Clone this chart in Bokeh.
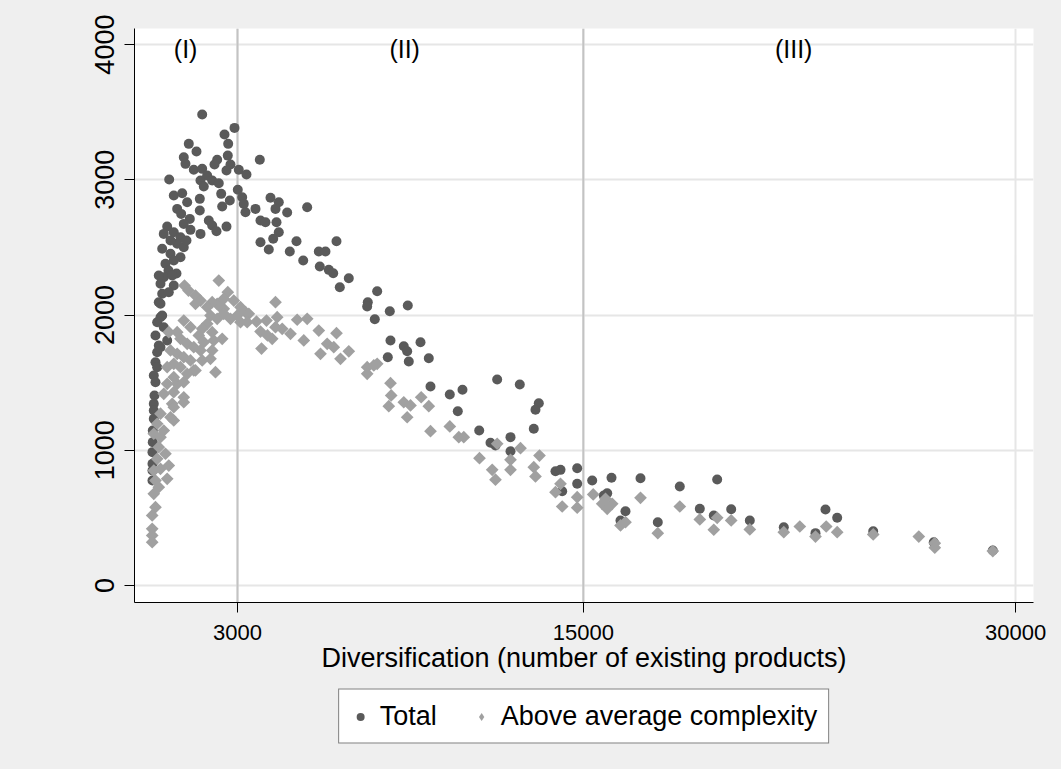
from bokeh.plotting import figure
from bokeh.layouts import column
from bokeh.models import Range1d, Span, Legend, LegendItem, FixedTicker, ColumnDataSource
from bokeh.core.properties import value
from bokeh.embed import file_html
from bokeh.resources import INLINE
import math

# ---------------- data ----------------
total_x = [1775, 2896, 2549, 2677, 1310, 1577, 1136, 1195, 1483, 1775, 2295, 2202, 2663, 2757, 2618,
           3045, 3312, 3774, 630, 1948, 1716, 2122, 2351, 1830, 3010, 3163, 3218, 3277, 789, 1081,
           1254, 1692, 2434, 2733, 907, 1046, 1692, 2469, 3624, 1345, 1136, 2004, 2122, 2271, 2618,
           560, 442, 789, 1022, 1369, 1716, 907, 1136, 387, 675, 1022, 501, 789, 675, 1230,
           606, 883, 4145, 4433, 4318, 4724, 5418, 3798, 3971, 4353, 4433, 4239, 3798, 4086, 5047,
           4815, 5280, 6435, 5821, 6053, 5856, 6168, 6321, 6862, 6550, 7847, 7521, 7500, 8285, 7764,
           8909, 8309, 8770, 8888, 9350, 8215, 8944, 9638, 9697, 10367, 10807, 10644, 12011, 12796, 13455,
           13340, 13281, 11387, 11779, 11952, 12473, 12473, 14034, 14208, 14787, 14787, 14267, 15308, 15978, 16984,
           15829, 15710, 16463, 16290, 17584, 18348, 19645, 19042, 19527, 20131, 20777, 21956, 23056, 23403, 23809,
           25059, 27161, 29209, 442, 269, 734, 789, 387, 616, 269, 328, 328, 213, 442, 154,
           269, 213, 154, 213, 95, 154, 95, 120, 95, 95, 60, 50, 50, 50, 387,
           560, 328, 328, 60, 50]
total_y = [3483, 3384, 3335, 3266, 3266, 3209, 3167, 3118, 3074, 3081, 3148, 3113, 3179, 3113, 3069,
           3074, 3039, 3148, 3002, 3032, 2995, 2995, 2975, 2950, 2926, 2871, 2822, 2760, 2884, 2901,
           2834, 2859, 2896, 2847, 2785, 2748, 2773, 2802, 2785, 2711, 2674, 2699, 2662, 2620, 2654,
           2654, 2600, 2612, 2575, 2630, 2600, 2527, 2501, 2490, 2453, 2427, 2379, 2403, 2551, 2551,
           2329, 2307, 2867, 2834, 2785, 2758, 2797, 2699, 2686, 2686, 2612, 2564, 2538, 2484, 2546,
           2470, 2403, 2546, 2470, 2470, 2359, 2334, 2309, 2272, 2206, 2176, 2095, 2063, 2028, 1969,
           2070, 1812, 1769, 1732, 1799, 1688, 1656, 1681, 1471, 1412, 1447, 1289, 1523, 1486, 1348,
           1299, 1159, 1146, 1055, 1035, 1097, 993, 845, 855, 867, 752, 697, 776, 796, 793,
           682, 665, 549, 481, 468, 732, 784, 567, 518, 564, 481, 431, 387, 562, 501,
           401, 320, 259, 2280, 2292, 2292, 2218, 2157, 2169, 2095, 2231, 1984, 1947, 1910, 1849,
           1775, 1725, 1651, 1614, 1553, 1503, 1343, 1405, 1294, 1233, 1060, 986, 900, 776, 1996,
           1812, 1762, 2083, 1146, 850]

complex_x = [2351, 1161, 1300, 1542, 1716, 1542, 2663, 2871, 2295, 2524, 4318, 3104, 3277, 2524, 2122,
             1948, 2410, 3392, 2063, 2295, 2524, 2757, 2989, 3104, 3336, 3659, 4006, 3798, 4041, 3833,
             1948, 1775, 1657, 2122, 2177, 2469, 1830, 1136, 1369, 907, 616, 1022, 1254, 1483, 1716,
             2122, 2063, 2236, 675, 907, 1136, 789, 560, 1022, 1369, 1483, 1254, 789, 560, 907,
             1136, 442, 789, 1136, 734, 4377, 4318, 4551, 4204, 5071, 5418, 4839, 5300, 5821, 6435,
             6112, 6341, 5880, 6574, 6862, 7500, 7730, 7847, 7500, 8309, 8333, 8250, 8770, 9003, 8888,
             9374, 9638, 9697, 10367, 10679, 10852, 11397, 11838, 11952, 12011, 12473, 12473, 12820, 13281, 13340,
             13479, 14034, 14208, 14787, 14267, 14787, 15343, 15655, 15829, 16002, 15769, 16290, 16463, 16984, 17584,
             18348, 19042, 19527, 19645, 20131, 20777, 21956, 22512, 23056, 23428, 23809, 25059, 26641, 27196, 27196,
             29209, 1136, 789, 328, 675, 789, 213, 442, 95, 328, 269, 501, 213, 616, 328,
             95, 560, 154, 269, 95, 154, 40, 40, 40, 40, 1775, 1542]
complex_y = [2255, 2218, 2181, 2144, 2107, 2083, 2169, 2107, 2083, 2046, 2095, 2058, 2021, 2120, 2095,
             2058, 2058, 2009, 1996, 1972, 2009, 1972, 1996, 1947, 1947, 1952, 1959, 1878, 1849, 1752,
             1935, 1898, 1849, 1873, 1812, 1824, 1799, 1959, 1910, 1873, 1873, 1824, 1787, 1762, 1738,
             1738, 1676, 1577, 1738, 1713, 1688, 1639, 1614, 1614, 1664, 1590, 1565, 1540, 1491, 1491,
             1503, 1417, 1429, 1392, 1343, 1984, 1910, 1898, 1824, 1965, 1972, 1861, 1812, 1885, 1866,
             1787, 1762, 1713, 1676, 1732, 1614, 1627, 1639, 1565, 1496, 1405, 1326, 1355, 1331, 1244,
             1392, 1326, 1141, 1176, 1097, 1097, 941, 855, 782, 1048, 929, 855, 1015, 875, 806,
             961, 690, 752, 653, 584, 575, 673, 604, 567, 604, 641, 444, 468, 648, 387,
             584, 488, 412, 500, 481, 414, 394, 436, 362, 436, 394, 377, 362, 313, 279,
             254, 1355, 1318, 1270, 1244, 1220, 1196, 1146, 1122, 1097, 1023, 974, 937, 887, 863,
             850, 789, 776, 727, 678, 579, 518, 419, 370, 320, 1664, 1590]

series_names = ["Total", "Above average complexity"]
x_ticks = [3000, 15000, 30000]
y_ticks = [0, 1000, 2000, 3000, 4000]
stage_bounds = [3000, 15000]
stage_labels = ["(I)", "(II)", "(III)"]
stage_label_x = [1200, 8800, 22300]
stage_label_y = [3970, 3970, 3970]
x_title = "Diversification (number of existing products)"

FONT = "Liberation Sans"
DARK = "#5a5a5a"
LIGHT = "#a0a0a0"
BG = "#efefef"

p = figure(width=1061, height=682, output_backend="svg", toolbar_location=None,
           x_range=Range1d(-574, 30621), y_range=Range1d(-126, 4119),
           min_border_left=134, min_border_right=28, min_border_top=28, min_border_bottom=80,
           background_fill_color="white", border_fill_color=BG, outline_line_color=None)

# grid
p.xgrid.ticker = FixedTicker(ticks=x_ticks)
p.ygrid.ticker = FixedTicker(ticks=y_ticks)
for g in (p.xgrid, p.ygrid):
    g.grid_line_color = "#e6e6e6"
    g.grid_line_width = 2

for b in stage_bounds:
    p.add_layout(Span(location=b, dimension="height", line_color="#c3c3c3", line_width=2, level="underlay"))

# axes
p.xaxis.ticker = FixedTicker(ticks=x_ticks)
p.yaxis.ticker = FixedTicker(ticks=y_ticks)
for ax in (p.xaxis, p.yaxis):
    ax.axis_line_color = "black"
    ax.axis_line_width = 1
    ax.major_tick_line_color = "black"
    ax.major_tick_in = 0
    ax.major_tick_out = 10
    ax.minor_tick_line_color = None
    ax.major_label_text_font = FONT
    ax.major_label_text_color = "black"
p.xaxis.major_label_text_font_size = "22px"
p.xaxis.major_label_standoff = 12
p.xaxis.axis_label = x_title
p.xaxis.axis_label_text_font = FONT
p.xaxis.axis_label_text_font_size = "27px"
p.xaxis.axis_label_text_font_style = "normal"
p.xaxis.axis_label_text_color = "black"
p.xaxis.axis_label_standoff = 0
p.yaxis.major_label_text_font_size = "27px"
p.yaxis.major_label_orientation = "vertical"
p.yaxis.major_label_standoff = 10

src_t = ColumnDataSource(dict(x=total_x, y=total_y))
src_c = ColumnDataSource(dict(x=complex_x, y=complex_y, a=[math.pi / 4] * len(complex_x)))
p.scatter("x", "y", source=src_t, marker="circle", size=10, fill_color=DARK, line_color=None)
p.scatter("x", "y", source=src_c, marker="square", size=9, angle="a",
          fill_color=LIGHT, line_color=None)

p.text(x=stage_label_x, y=stage_label_y, text=stage_labels, text_font=value(FONT),
       text_font_size="25px", text_align="center", text_baseline="middle", text_color="black")

# ---- legend strip below the plot (same marker styles) ----
q = figure(width=1061, height=87, output_backend="svg", toolbar_location=None,
           x_range=Range1d(0, 1), y_range=Range1d(0, 1),
           x_axis_location=None, y_axis_location=None,
           min_border_left=134, min_border_right=28, min_border_top=0, min_border_bottom=19,
           background_fill_color=None, border_fill_color=BG, outline_line_color=None)
q.grid.visible = False
# swatch renderers: their single point lies outside the strip's range, only the legend shows them
lt = q.scatter(x=total_x[:1], y=total_y[:1], marker="circle", size=10, fill_color=DARK, line_color=None)
lc = q.scatter(x=complex_x[:1], y=complex_y[:1], marker="diamond", size=12,
               fill_color=LIGHT, line_color=None)
legend = Legend(items=[LegendItem(label=series_names[0], renderers=[lt], index=0),
                       LegendItem(label=series_names[1], renderers=[lc], index=0)],
                orientation="horizontal", location="center",
                label_text_font=FONT, label_text_font_size="27px", label_text_color="black",
                border_line_color="black", border_line_width=1, background_fill_color="white",
                background_fill_alpha=1.0, padding=11, spacing=34, label_standoff=10,
                glyph_width=20, glyph_height=20, margin=0)
q.add_layout(legend, "center")

layout = column(p, q, spacing=0, styles={"background-color": BG})
open("out.html", "w").write(file_html(layout, INLINE))
